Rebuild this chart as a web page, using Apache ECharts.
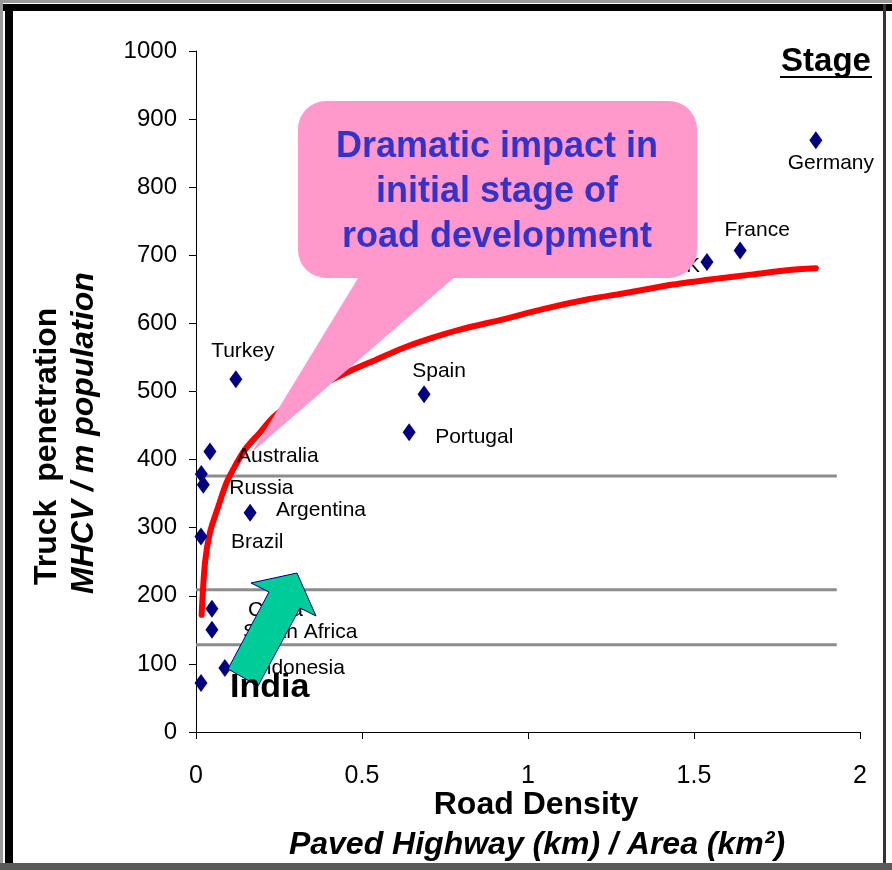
<!DOCTYPE html>
<html>
<head>
<meta charset="utf-8">
<script src="https://cdn.jsdelivr.net/npm/echarts@6/dist/echarts.min.js"></script>
<style>
  html, body { margin: 0; padding: 0; background: #fff; }
  #chart { width: 892px; height: 870px; }
</style>
</head>
<body>
<div id="chart"></div>
<script>
// Countries: road density (km paved highway per km² area) vs trucks per million people
const countries = ['India', 'Indonesia', 'China', 'South Africa', 'Brazil', 'Russia', '', 'Australia',
  'Argentina', 'Turkey', 'Portugal', 'Spain', 'UK', 'France', 'Germany'];
const roadDensity = [0.015, 0.087, 0.048, 0.048, 0.015, 0.022, 0.016, 0.042,
  0.163, 0.120, 0.642, 0.687, 1.539, 1.639, 1.867];
const truckPenetration = [72, 94, 181, 150, 287, 363, 379, 412,
  322, 518, 440, 496, 690, 707, 869];

// Trend curve
const trendX = [0.017, 0.027, 0.042, 0.067, 0.092, 0.117, 0.148, 0.193, 0.232, 0.30, 0.38, 0.464,
  0.544, 0.624, 0.699, 0.795, 0.925, 1.045, 1.178, 1.298, 1.437, 1.557, 1.678, 1.780, 1.867];
const trendY = [172, 248, 293, 331, 366, 390, 415, 440, 462, 488, 510, 530,
  547, 564, 577, 591, 606, 621, 635, 645, 657, 665, 672, 678, 681];

// Stage boundaries and stage names
const stageBounds = [128, 209, 376];
const stageLineEndX = 1.93;
const stageNames = ['1', '2', '3', '4'];
const stageLabelX = 1.883;
const stageLabelY = [85, 162, 287, 478];

// Axis ticks
const xTicks = [0, 0.5, 1, 1.5, 2];
const yTicks = [0, 100, 200, 300, 400, 500, 600, 700, 800, 900, 1000];

// Label placement: [align, dx, dy] relative to each diamond's centre
const labelLayout = {
  'Indonesia': ['left', 29, 0],
  'China': ['left', 36, 1],
  'South Africa': ['left', 31, 2],
  'Brazil': ['left', 30, 6],
  'Russia': ['left', 26, 3],
  'Australia': ['left', 27, 5],
  'Argentina': ['left', 26, -3],
  'Turkey': ['center', 7, -28],
  'Portugal': ['left', 26, 5],
  'Spain': ['center', 15, -23],
  'UK': ['right', -7, 4],
  'France': ['center', 17, -20],
  'Germany': ['center', 15, 23]
};

const SANS = '"Liberation Sans", Arial, sans-serif';
const NAVY = '#000080';
const DIAMOND = [13, 18];

// label position relative to the symbol's bounding box top-left corner
function labelAt(dx, dy) {
  return [DIAMOND[0] / 2 + dx, DIAMOND[1] / 2 + dy];
}

const countryPoints = [];
let indiaPoint = null;
countries.forEach((name, i) => {
  const pt = [roadDensity[i], truckPenetration[i]];
  if (name === 'India') { indiaPoint = { name, value: pt }; return; }
  const lay = labelLayout[name];
  countryPoints.push({
    name,
    value: pt,
    label: lay ? { show: true, align: lay[0], position: labelAt(lay[1], lay[2]) } : { show: false }
  });
});

const trendData = trendX.map((x, i) => [x, trendY[i]]);

const stageLineSeries = stageBounds.map(v => ({
  type: 'line',
  silent: true,
  symbol: 'none',
  z: 1,
  lineStyle: { color: '#8c8c8c', width: 3 },
  data: [[0, v], [stageLineEndX, v]]
}));

const chart = echarts.init(document.getElementById('chart'), null, { renderer: 'canvas' });

chart.setOption({
  animation: false,
  backgroundColor: '#fff',
  grid: { left: 196, right: 32, top: 51, bottom: 138, containLabel: false },
  xAxis: {
    type: 'value', min: xTicks[0], max: xTicks[xTicks.length - 1], interval: 0.5,
    axisLine: { lineStyle: { color: '#000', width: 1 } },
    axisTick: { show: true, length: 7, lineStyle: { color: '#000' } },
    splitLine: { show: false },
    axisLabel: { color: '#000', fontFamily: SANS, fontSize: 25, margin: 32, formatter: v => String(v) }
  },
  yAxis: {
    type: 'value', min: yTicks[0], max: yTicks[yTicks.length - 1], interval: 100,
    axisLine: { show: true, lineStyle: { color: '#000', width: 1 } },
    axisTick: { show: true, length: 7, lineStyle: { color: '#000' } },
    splitLine: { show: false },
    axisLabel: { color: '#000', fontFamily: SANS, fontSize: 24, margin: 19, formatter: v => String(v) }
  },
  series: [
    ...stageLineSeries,
    {
      type: 'line',
      name: 'trend',
      silent: true,
      symbol: 'none',
      smooth: 0.3,
      z: 3,
      lineStyle: { color: '#ff0000', width: 6, cap: 'round', join: 'round' },
      data: trendData
    },
    {
      type: 'scatter',
      name: 'countries',
      symbol: 'diamond',
      symbolSize: DIAMOND,
      z: 4,
      itemStyle: { color: NAVY, opacity: 1 },
      label: {
        show: true, verticalAlign: 'middle',
        formatter: '{b}', color: '#000', fontFamily: SANS, fontSize: 21
      },
      data: countryPoints
    },
    {
      type: 'scatter',
      name: 'India',
      symbol: 'diamond',
      symbolSize: DIAMOND,
      z: 60,
      itemStyle: { color: NAVY, opacity: 1 },
      label: {
        show: true, position: labelAt(29, 5), align: 'left', verticalAlign: 'middle',
        formatter: '{b}', color: '#000',
        fontFamily: SANS, fontWeight: 'bold', fontSize: 34
      },
      data: [indiaPoint]
    },
    {
      type: 'scatter',
      name: 'stages',
      silent: true,
      symbol: 'none',
      symbolSize: 0,
      z: 5,
      itemStyle: { opacity: 1 },
      label: {
        show: true, position: 'inside', align: 'center', verticalAlign: 'middle',
        formatter: '{b}', color: '#000', fontFamily: SANS, fontWeight: 'bold', fontSize: 28
      },
      data: stageNames.map((n, i) => ({ name: n, value: [stageLabelX, stageLabelY[i]] }))
    }
  ],
  graphic: [
    // Callout bubble
    {
      type: 'polygon', z: 40, silent: true,
      shape: { points: [[363, 270], [463, 270], [252, 452]] },
      style: { fill: '#ff99cc', stroke: null }
    },
    {
      type: 'rect', z: 41, silent: true,
      shape: { x: 298, y: 101, width: 399, height: 177, r: 28 },
      style: { fill: '#ff99cc', stroke: null }
    },
    {
      type: 'text', z: 42, silent: true,
      x: 497, y: 192,
      style: {
        text: 'Dramatic impact in\ninitial stage of\nroad development',
        fill: '#3333cc', font: 'bold 36px ' + SANS,
        align: 'center', verticalAlign: 'middle', lineHeight: 45
      }
    },
    // Upward arrow
    {
      type: 'polygon', z: 50, silent: true,
      shape: { points: [[228, 669], [269, 592], [251, 583], [297, 573], [316, 616], [300, 608], [258, 686]] },
      style: { fill: '#00cc99', stroke: NAVY, lineWidth: 1 }
    },
    // Stage header
    {
      type: 'text', z: 30, silent: true,
      x: 826, y: 62,
      style: { text: 'Stage', fill: '#000', font: 'bold 33px ' + SANS, align: 'center', verticalAlign: 'middle' }
    },
    {
      type: 'line', z: 30, silent: true,
      shape: { x1: 780, y1: 77, x2: 872, y2: 77 },
      style: { stroke: '#000', lineWidth: 2 }
    },
    // Axis titles
    {
      type: 'text', z: 30, silent: true,
      x: 536, y: 805,
      style: { text: 'Road Density', fill: '#000', font: 'bold 32px ' + SANS, align: 'center', verticalAlign: 'middle' }
    },
    {
      type: 'text', z: 30, silent: true,
      x: 537, y: 845,
      style: { text: 'Paved Highway (km) / Area (km²)', fill: '#000', font: 'italic bold 32px ' + SANS, align: 'center', verticalAlign: 'middle' }
    },
    {
      type: 'text', z: 30, silent: true,
      x: 47, y: 585, rotation: Math.PI / 2,
      style: { text: 'Truck  penetration', fill: '#000', font: 'bold 32px ' + SANS, align: 'left', verticalAlign: 'middle' }
    },
    {
      type: 'text', z: 30, silent: true,
      x: 84, y: 594, rotation: Math.PI / 2,
      style: { text: 'MHCV / m population', fill: '#000', font: 'italic bold 32px ' + SANS, align: 'left', verticalAlign: 'middle' }
    },
    // Frame
    { type: 'rect', z: 100, silent: true, shape: { x: 0, y: 0, width: 892, height: 3 }, style: { fill: '#9a9a9a' } },
    { type: 'rect', z: 100, silent: true, shape: { x: 0, y: 4, width: 892, height: 7 }, style: { fill: '#000' } },
    { type: 'rect', z: 100, silent: true, shape: { x: 0, y: 0, width: 3, height: 870 }, style: { fill: '#9a9a9a' } },
    { type: 'rect', z: 100, silent: true, shape: { x: 5, y: 4, width: 8, height: 866 }, style: { fill: '#000' } },
    { type: 'rect', z: 100, silent: true, shape: { x: 883, y: 4, width: 3, height: 866 }, style: { fill: '#333' } },
    { type: 'rect', z: 100, silent: true, shape: { x: 0, y: 863, width: 892, height: 7 }, style: { fill: '#5a5a5a' } }
  ]
});
</script>
</body>
</html>
